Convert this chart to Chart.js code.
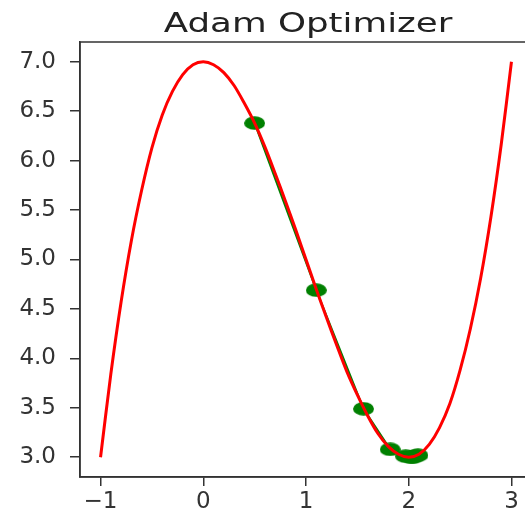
<!DOCTYPE html>
<html>
<head>
<meta charset="utf-8">
<script src="https://cdn.jsdelivr.net/npm/chart.js@4/dist/chart.umd.min.js"></script>
<style>
  html, body { margin: 0; padding: 0; background: #fff; overflow: hidden; }
  #wrap { width: 525px; height: 510px; overflow: hidden; }
</style>
</head>
<body>
<div id="wrap"><canvas id="chart" width="560" height="510"></canvas></div>
<script>
// curve f(x)
const curveX = [-1, -0.9, -0.8, -0.7, -0.6, -0.5, -0.4, -0.3, -0.2, -0.1, 0,
  0.1, 0.2, 0.3, 0.4, 0.5, 0.6, 0.7, 0.8, 0.9, 1.0,
  1.1, 1.2, 1.3, 1.4, 1.5, 1.6, 1.7, 1.8, 1.9, 2.0,
  2.1, 2.2, 2.3, 2.4, 2.5, 2.6, 2.7, 2.8, 2.9, 3.0];
const curveY = [3.00, 3.84, 4.57, 5.19, 5.70, 6.13, 6.46, 6.70, 6.87, 6.97, 7.00,
  6.97, 6.89, 6.76, 6.58, 6.38, 6.14, 5.87, 5.59, 5.30, 5.00,
  4.70, 4.41, 4.13, 3.86, 3.63, 3.42, 3.24, 3.11, 3.03, 3.00,
  3.03, 3.13, 3.30, 3.54, 3.88, 4.30, 4.81, 5.43, 6.16, 7.00];

// optimizer steps
const stepX = [0.50, 1.10, 1.56, 1.82, 1.97, 2.04, 2.09, 2.06, 2.02];
const stepY = [6.38, 4.69, 3.49, 3.08, 3.01, 3.00, 3.02, 3.01, 3.00];

const xTicks = [-1, 0, 1, 2, 3];
const yTicks = [3.0, 3.5, 4.0, 4.5, 5.0, 5.5, 6.0, 6.5, 7.0];

const titleText = 'Adam Optimizer';

// green ellipse marker (the picture is stretched sideways)
function ellipseMarker() {
  const c = document.createElement('canvas');
  c.width = 21; c.height = 14;
  const g = c.getContext('2d');
  g.fillStyle = '#008000';
  g.beginPath();
  g.ellipse(10.5, 7, 10.5, 6.8, 0, 0, Math.PI * 2);
  g.fill();
  return c;
}

// axes box + wide title
const frame = {
  id: 'frame',
  afterDraw(chart) {
    const a = chart.chartArea, ctx = chart.ctx;
    ctx.save();
    ctx.strokeStyle = '#333';
    ctx.lineWidth = 1.5;
    ctx.strokeRect(a.left, a.top, a.right - a.left, a.bottom - a.top);
    ctx.fillStyle = '#222';
    ctx.font = '26px "DejaVu Sans"';
    ctx.textAlign = 'center';
    ctx.textBaseline = 'alphabetic';
    ctx.translate(308, 32);
    ctx.scale(1.37, 1);
    ctx.fillText(titleText, 0, 0);
    ctx.restore();
  }
};

new Chart(document.getElementById('chart'), {
  type: 'scatter',
  data: {
    datasets: [
      {
        label: 'steps',
        data: stepX.map((x, i) => ({ x: x, y: stepY[i] })),
        showLine: true,
        borderColor: '#008000',
        borderWidth: 2,
        pointStyle: ellipseMarker(),
        order: 2
      },
      {
        label: 'f(x)',
        data: curveX.map((x, i) => ({ x: x, y: curveY[i] })),
        showLine: true,
        borderColor: '#ff0000',
        borderWidth: 3,
        pointRadius: 0,
        tension: 0.3,
        order: 1
      }
    ]
  },
  options: {
    responsive: false,
    animation: false,
    layout: { padding: { left: 0, right: 28, top: 42, bottom: 0 } },
    plugins: {
      legend: { display: false },
      tooltip: { enabled: false },
      title: { display: false }
    },
    scales: {
      x: {
        type: 'linear',
        min: -1.2, max: 3.2,
        afterBuildTicks: s => { s.ticks = xTicks.map(v => ({ value: v })); },
        afterFit: s => { s.height = 33; },
        grid: { drawOnChartArea: false, drawTicks: true, tickLength: 9, color: '#333', lineWidth: 1.5 },
        border: { display: true, color: '#333', width: 1.5 },
        ticks: {
          color: '#333', padding: 2,
          font: { family: 'DejaVu Sans', size: 23 },
          callback: v => String(v).replace('-', '\u2212')
        }
      },
      y: {
        type: 'linear',
        min: 2.8, max: 7.2,
        afterBuildTicks: s => { s.ticks = yTicks.map(v => ({ value: v })); },
        afterFit: s => { s.width = 80; },
        grid: { drawOnChartArea: false, drawTicks: true, tickLength: 10, color: '#333', lineWidth: 1.5 },
        border: { display: true, color: '#333', width: 1.5 },
        ticks: {
          color: '#333', padding: 14,
          font: { family: 'DejaVu Sans', size: 23 },
          callback: v => v.toFixed(1)
        }
      }
    }
  },
  plugins: [frame]
});
</script>
</body>
</html>
